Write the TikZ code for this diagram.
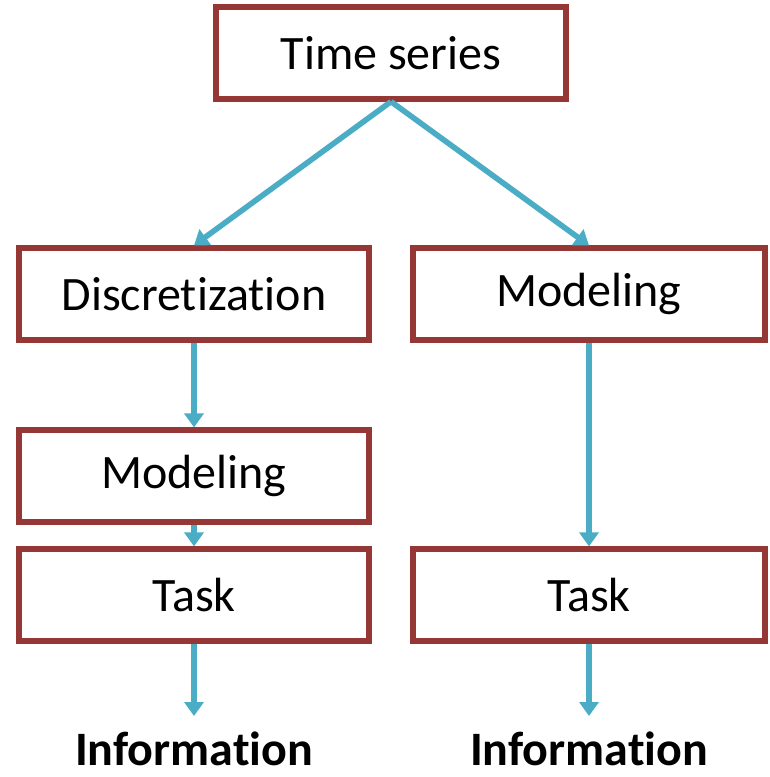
\documentclass[tikz,border=0pt]{standalone}
\usepackage{fontspec}
\setmainfont{Carlito}[Ligatures=NoCommon]
\usetikzlibrary{arrows.meta}

\begin{document}
\begin{tikzpicture}[x=0.5pt, y=-0.5pt]
    % Define colours
    \definecolor{boxColour}{HTML}{953735}
    \definecolor{arrowColour}{HTML}{4BACC6}

    % Styles
    \tikzset{
        stepbox/.style={draw=boxColour, line width=2.6pt, fill=white,
            minimum width=175pt, minimum height=46pt, inner sep=0pt,
            font=\fontsize{24}{28}\selectfont},
        flow/.style={draw=arrowColour, line width=2.8pt,
            -{Triangle[length=7pt, width=9.5pt]}},
        result/.style={inner sep=0pt, font=\fontsize{24}{28}\selectfont\bfseries}
    }

    % Fix page size
    \useasboundingbox (0,0) rectangle (770,777);

    % Boxes
    \node[stepbox] (series) at (391,53) {Time series};
    \node[stepbox] (discrete) at (194,294) {Discretization};
    \node[stepbox, minimum width=176pt] (modelR) at (589,294) {Modeling};
    \node[stepbox] (modelL) at (194,476) {Modeling};
    \node[stepbox] (taskL) at (194,595) {Task};
    \node[stepbox, minimum width=176pt] (taskR) at (589,595) {Task};

    % Outputs
    \node[result] (infoL) at (194,749) {Information};
    \node[result] (infoR) at (589,749) {Information};
    \coordinate (endL) at (194,716);
    \coordinate (endR) at (589,716);

    % Arrows
    \draw[flow] (series.south) -- (discrete.north);
    \draw[flow] (series.south) -- (modelR.north);
    \draw[flow] (discrete.south) -- (modelL.north);
    \draw[flow] (modelL.south) -- (taskL.north);
    \draw[flow] (modelR.south) -- (taskR.north);
    \draw[flow] (taskL.south) -- (endL);
    \draw[flow] (taskR.south) -- (endR);

\end{tikzpicture}
\end{document}
